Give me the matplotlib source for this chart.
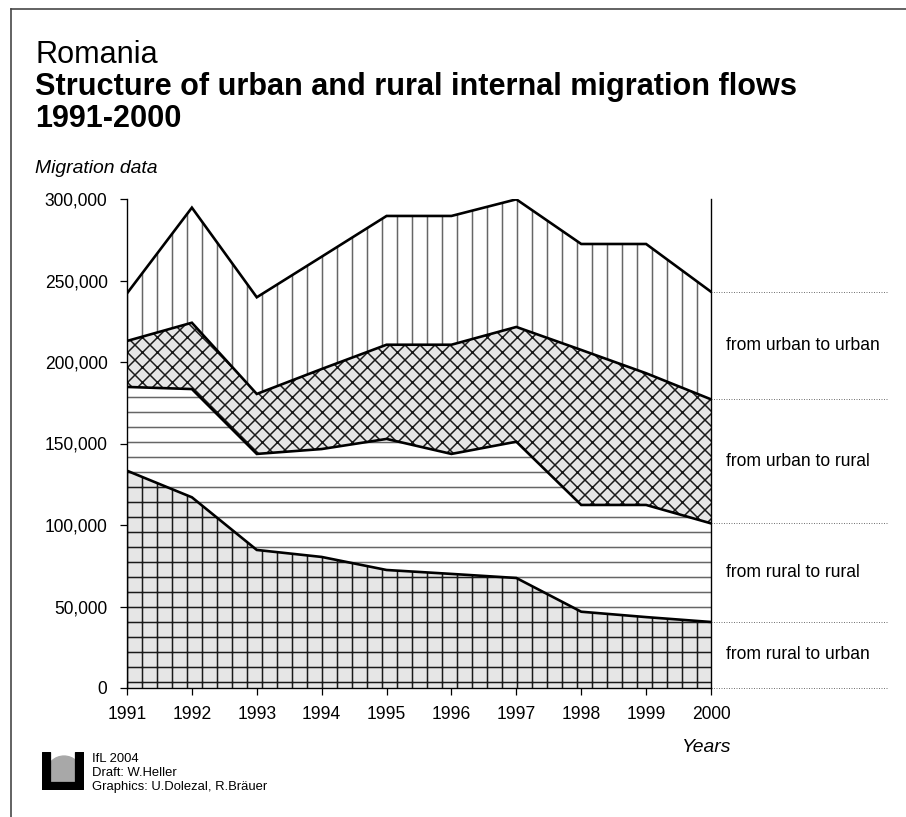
import matplotlib
matplotlib.use("Agg")
import matplotlib.pyplot as plt
from matplotlib.ticker import FuncFormatter
from matplotlib.lines import Line2D
from matplotlib.patches import Rectangle, Ellipse
import numpy as np

plt.rcParams['font.family'] = ['Liberation Sans', 'DejaVu Sans']
plt.rcParams['hatch.linewidth'] = 1.2

W, H, DPI = 906, 817, 90

# Data, stacked from bottom to top
years = [1991, 1992, 1993, 1994, 1995, 1996, 1997, 1998, 1999, 2000]
rural_to_urban = [133300, 117000, 84700, 80400, 72400, 70000, 67500, 46800, 43500, 40500]
rural_to_rural = [51400, 66400, 58900, 66200, 80400, 73600, 83600, 65500, 68800, 60500]
urban_to_rural = [28200, 40700, 36800, 49100, 57800, 67000, 70400, 95100, 80800, 76100]
urban_to_urban = [29200, 70600, 59300, 68900, 79000, 79000, 78300, 65000, 79300, 66000]

labels = ['from rural to urban', 'from rural to rural', 'from urban to rural', 'from urban to urban']
layers = [rural_to_urban, rural_to_rural, urban_to_rural, urban_to_urban]
hatches = ['+', '-', 'xx', '|']
fills = ['#e6e6e6', 'white', '#e6e6e6', 'white']
hatch_cols = ['#1a1a1a', '#666666', '#1a1a1a', '#666666']


def px(x, y):
    # pixel position -> figure fraction
    return x / W, 1 - y / H


fig = plt.figure(figsize=(W / DPI, H / DPI), dpi=DPI)
l, b = px(127, 688)
r, t = px(711, 199)
ax = fig.add_axes([l, b, r - l, t - b])

x = np.array(years)
bottom = np.zeros(len(years))
for vals, hat, fc, hc in zip(layers, hatches, fills, hatch_cols):
    top = bottom + np.array(vals)
    ax.fill_between(x, bottom, top, facecolor=fc, edgecolor=hc, hatch=hat,
                    linewidth=0, zorder=1)
    bottom = top

# thick boundary lines
cum = np.cumsum(np.array(layers), axis=0)
for row in cum:
    ax.plot(x, row, color='black', lw=2.1, solid_joinstyle='miter', zorder=3)

ax.set_xlim(1991, 2000)
ax.set_ylim(0, 300000)
ax.set_xticks(years)
ax.set_yticks(np.arange(0, 300001, 50000))
ax.yaxis.set_major_formatter(FuncFormatter(lambda v, p: f'{v:,.0f}'))
ax.tick_params(axis='both', direction='out', length=5.6, width=1, labelsize=14, colors='black')
ax.tick_params(axis='y', pad=10)
ax.tick_params(axis='x', pad=9)
ax.spines['top'].set_visible(False)
for s in ['left', 'right', 'bottom']:
    ax.spines[s].set_linewidth(1.1)
    ax.spines[s].set_zorder(4)

# dotted guide lines and labels on the right
edges = [0] + list(cum[:, -1])
for v in edges:
    ax.plot([2000, 2002.71], [v, v], color='#777777', lw=0.8, ls=(0, (1, 1.5)),
            clip_on=False, zorder=2)
for i, lab in enumerate(labels):
    mid = (edges[i] + edges[i + 1]) / 2
    ax.text(2000.23, mid, lab, fontsize=14, va='center', ha='left')

# titles
fig.text(*px(35, 63), 'Romania', fontsize=24.5, va='baseline')
fig.text(*px(35, 95), 'Structure of urban and rural internal migration flows',
         fontsize=24.5, fontweight='bold', va='baseline')
fig.text(*px(35, 127), '1991-2000', fontsize=24.5, fontweight='bold', va='baseline')
fig.text(*px(35, 173), 'Migration data', fontsize=15.5, style='italic', va='baseline')
fig.text(*px(731, 752), 'Years', fontsize=15.5, style='italic', va='baseline', ha='right')

# footer
fig.text(*px(92, 762), 'IfL 2004', fontsize=10.4, va='baseline')
fig.text(*px(92, 776), 'Draft: W.Heller', fontsize=10.4, va='baseline')
fig.text(*px(92, 790), 'Graphics: U.Dolezal, R.Bräuer', fontsize=10.4, va='baseline')

# small logo
lax = fig.add_axes([42 / W, 1 - 790 / H, 42 / W, 38 / H])
lax.set_xlim(0, 42)
lax.set_ylim(0, 38)
lax.axis('off')
lax.add_patch(Ellipse((22, 18), 34, 32, color='#a8a8a8'))
lax.add_patch(Rectangle((0, 0), 8, 38, color='black'))
lax.add_patch(Rectangle((33, 8), 9, 30, color='black'))
lax.add_patch(Rectangle((8, 0), 34, 8, color='black'))

# outer frame
fig.add_artist(Line2D([11 / W, 11 / W], [0, 1 - 9 / H], color='#444444', lw=1.3))
fig.add_artist(Line2D([11 / W, 1], [1 - 9 / H, 1 - 9 / H], color='#444444', lw=1.3))

fig.savefig('out.png', dpi=DPI)
